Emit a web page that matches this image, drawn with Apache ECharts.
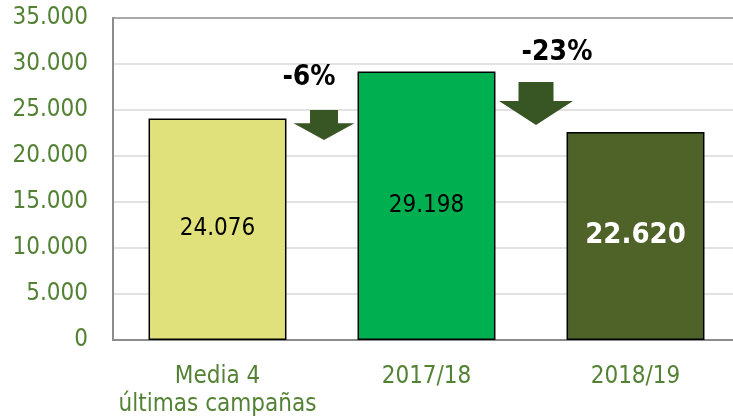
<!DOCTYPE html>
<html>
<head>
<meta charset="utf-8">
<script src="https://cdn.jsdelivr.net/npm/echarts@6/dist/echarts.min.js"></script>
<style>
html, body { margin: 0; padding: 0; background: #fff; }
#chart { width: 733px; height: 418px; }
</style>
</head>
<body>
<div id="chart"></div>
<script>
// datos de la campaña
var categories = ['Media 4\núltimas campañas', '2017/18', '2018/19'];
var values = [24076, 29198, 22620];
var yTicks = [0, 5000, 10000, 15000, 20000, 25000, 30000, 35000];

// flechas de variación (índice de la categoría de la izquierda, arriba, punta)
var changeLabels = ['-6%', '-23%'];
var arrowFrom = [0, 1];
var arrowTop = [25000, 28040];
var arrowTip = [21740, 23370];
var changeLabelValue = [28480, 31200];

var font = 'DejaVu Sans Condensed';
var barColors = ['#e1e17b', '#00b050', '#4f6228'];

var chart = echarts.init(document.getElementById('chart'));

var fmt = function (v) {
    return String(v).replace(/\B(?=(\d{3})+(?!\d))/g, '.');
};

var barData = values.map(function (v, i) {
    var last = i === values.length - 1;
    return {
        value: v,
        itemStyle: { color: barColors[i] },
        label: {
            color: last ? '#fff' : '#000',
            fontWeight: last ? 'bold' : 'normal',
            fontSize: last ? 29 : 24
        }
    };
});

var arrowData = changeLabels.map(function (t, i) {
    return [arrowFrom[i], arrowTop[i], arrowTip[i], changeLabelValue[i]];
});

// tamaño de las flechas en px
var headWidth = [61, 74];
var shaftWidth = [28, 35];
var labelDx = [-15, 21];
var tipDx = [2, 5];

// rejilla gris clara, borde superior más oscuro
var splitColors = yTicks.map(function (t, i) {
    return i === yTicks.length - 1 ? '#8c8c8c' : '#d9d9d9';
});

var option = {
    animation: false,
    grid: {
        left: 113,
        top: 18,
        width: 627,
        bottom: 78,
        outerBoundsMode: 'none'
    },
    xAxis: {
        type: 'category',
        data: categories,
        axisLine: { lineStyle: { color: '#8c8c8c', width: 2 } },
        axisTick: { show: false },
        axisLabel: {
            interval: 0,
            color: '#548235',
            fontFamily: font,
            fontSize: 24,
            lineHeight: 28,
            margin: 23
        }
    },
    yAxis: {
        type: 'value',
        min: yTicks[0],
        max: yTicks[yTicks.length - 1],
        interval: yTicks[1] - yTicks[0],
        axisLine: { show: true, lineStyle: { color: '#8c8c8c', width: 2 } },
        axisTick: { show: false },
        splitLine: { lineStyle: { color: splitColors, width: 1.6 } },
        axisLabel: {
            color: '#548235',
            fontFamily: font,
            fontSize: 24,
            margin: 25,
            formatter: fmt
        }
    },
    series: [
        {
            type: 'bar',
            data: barData,
            barCategoryGap: '34%',
            itemStyle: { borderColor: '#000', borderWidth: 1.5 },
            label: {
                show: true,
                position: 'inside',
                fontFamily: font,
                formatter: function (p) { return fmt(p.value); }
            }
        },
        {
            type: 'custom',
            z: 5,
            data: arrowData,
            renderItem: function (params, api) {
                var i = params.dataIndex;
                var x0 = api.coord([api.value(0), api.value(1)])[0];
                var x1 = api.coord([api.value(0) + 1, api.value(1)])[0];
                var cx = (x0 + x1) / 2 + tipDx[i];
                var top = api.coord([api.value(0), api.value(1)])[1];
                var tip = api.coord([api.value(0), api.value(2)])[1];
                var ty = api.coord([api.value(0), api.value(3)])[1];
                var neck = top + (tip - top) * 0.44;
                var hw = headWidth[i] / 2, sw = shaftWidth[i] / 2;
                return {
                    type: 'group',
                    children: [
                        {
                            type: 'polygon',
                            shape: {
                                points: [
                                    [cx - sw, top], [cx + sw, top], [cx + sw, neck],
                                    [cx + hw, neck], [cx, tip], [cx - hw, neck],
                                    [cx - sw, neck]
                                ]
                            },
                            style: { fill: '#375623' }
                        },
                        {
                            type: 'text',
                            style: {
                                text: changeLabels[i],
                                x: cx + labelDx[i],
                                y: ty,
                                align: 'center',
                                verticalAlign: 'middle',
                                fill: '#000',
                                font: 'bold 28px ' + font
                            }
                        }
                    ]
                };
            }
        }
    ]
};

chart.setOption(option, true);
</script>
</body>
</html>
